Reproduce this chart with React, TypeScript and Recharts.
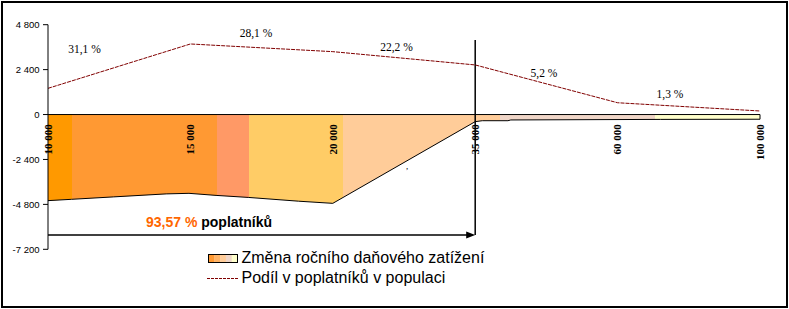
import React from 'react';
import {
  ComposedChart,
  Area,
  Line,
  XAxis,
  YAxis,
  ReferenceLine,
  ReferenceDot,
  Legend,
} from 'recharts';

// ---- data ----
const incomeLabels = ['10 000', '15 000', '20 000', '35 000', '60 000', '100 000'];
const incomeIndex = [0, 1, 2, 3, 4, 5];
const populationShare = [1400, 3770, 3360, 2650, 630, 190];

const changeIndex = [0, 0.165, 0.46, 0.83, 0.99, 1.18, 1.41, 1.76, 2, 3, 3.05, 3.23, 3.25, 4.3, 5];
const taxChange = [-4600, -4530, -4400, -4240, -4210, -4320, -4430, -4630, -4745, -380, -330, -330, -290, -260, -250];

const yTicks = [4800, 2400, 0, -2400, -4800, -7200];

const shareLabels = ['31,1 %', '28,1 %', '22,2 %', '5,2 %', '1,3 %'];
const shareLabelIndex = [0.256, 1.461, 2.447, 3.483, 4.368];
const shareLabelValue = [3272, 4143, 3395, 2006, 884];

const payersPct = '93,57 %';
const payersText = ' poplatníků';
const cutoffIndex = 3;
const arrowValue = -6436;
const cutoffTop = 3983;

const legendArea = 'Změna ročního daňového zatížení';
const legendLine = 'Podíl v poplatníků v populaci';

// ---- derived tables ----
const lineData = incomeIndex.map((x, i) => ({ x, v: populationShare[i] }));
const areaData = changeIndex.map((x, i) => ({ x, v: taxChange[i] }));

const fmt = (v: number) =>
  (v < 0 ? '-' : '') + Math.abs(v).toString().replace(/\B(?=(\d{3})+(?!\d))/g, ' ');

const bands = [
  { c: '#FF9900', from: 0, to: 0.034 },
  { c: '#FF9933', from: 0.034, to: 0.237 },
  { c: '#FF9966', from: 0.237, to: 0.282 },
  { c: '#FFCC66', from: 0.282, to: 0.415 },
  { c: '#FFCC99', from: 0.415, to: 0.635 },
  { c: '#F0D6C8', from: 0.635, to: 0.853 },
  { c: '#FFFFCC', from: 0.853, to: 1 },
];

const legendBands = ['#FF9933', '#FFB366', '#FFCC99', '#F0D6C8', '#FFFFCC'];

const LegendContent = () => (
  <svg width={320} height={42} style={{ display: 'block', overflow: 'visible' }}>
    {legendBands.map((c, i) => (
      <rect key={i} x={8.5 + (i * 29) / legendBands.length} y={8.5} width={29 / legendBands.length + 0.3} height={8} fill={c} />
    ))}
    <rect x={8.5} y={8.5} width={29} height={8} fill="none" stroke="#000" strokeWidth={1} />
    <text x={41.5} y={17.3} fontFamily="'Liberation Sans', Arial, sans-serif" fontSize={16} fill="#000">
      {legendArea}
    </text>
    <line x1={7} y1={32.5} x2={38} y2={32.5} stroke="#800000" strokeWidth={1} strokeDasharray="3 1" />
    <text x={41.5} y={36.7} fontFamily="'Liberation Sans', Arial, sans-serif" fontSize={16} fill="#000">
      {legendLine}
    </text>
  </svg>
);

export default function App() {
  return (
    <div style={{ position: 'absolute', left: 0, top: 0, width: 789, height: 309, background: '#fff' }}>
      <div
        style={{
          position: 'absolute',
          left: 1,
          top: 1,
          width: 787,
          height: 307,
          border: '2px solid #000',
          boxSizing: 'border-box',
        }}
      />
      <ComposedChart
        width={789}
        height={309}
        margin={{ top: 24.7, right: 29, bottom: 59.7, left: 0 }}
        style={{ position: 'absolute', left: 0, top: 0 }}
      >
        <defs>
          <linearGradient id="taxGrad" x1="0" y1="0" x2="1" y2="0">
            {bands.map((b, i) => (
              <React.Fragment key={i}>
                <stop offset={b.from} stopColor={b.c} />
                <stop offset={b.to} stopColor={b.c} />
              </React.Fragment>
            ))}
          </linearGradient>
        </defs>
        <XAxis type="number" dataKey="x" domain={[0, 5]} hide allowDataOverflow />
        <YAxis
          type="number"
          domain={[-7200, 4800]}
          ticks={yTicks}
          interval={0}
          width={48}
          tickFormatter={fmt}
          tickSize={5}
          tickMargin={3.5}
          axisLine={{ stroke: '#000' }}
          tickLine={{ stroke: '#000' }}
          tick={{ fill: '#000', fontSize: 9.5, fontFamily: "'Liberation Sans', Arial, sans-serif" }}
          allowDataOverflow
        />
        <Area
          data={areaData}
          dataKey="v"
          type="linear"
          baseValue={0}
          fill="url(#taxGrad)"
          fillOpacity={1}
          stroke="#000"
          strokeWidth={1}
          isAnimationActive={false}
        />
        <ReferenceLine y={0} stroke="#000" strokeWidth={1} />
        <ReferenceLine
          segment={[
            { x: 5, y: 0 },
            { x: 5, y: taxChange[taxChange.length - 1] },
          ]}
          stroke="#000"
        />
        <ReferenceLine
          segment={[
            { x: cutoffIndex, y: cutoffTop },
            { x: cutoffIndex, y: arrowValue },
          ]}
          stroke="#000"
          strokeWidth={1.5}
        />
        <ReferenceLine
          segment={[
            { x: 0, y: arrowValue },
            { x: cutoffIndex, y: arrowValue },
          ]}
          shape={(p: any) => (
            <g>
              <line x1={p.x1} y1={p.y1} x2={p.x2 - 6} y2={p.y2} stroke="#000" strokeWidth={1.5} />
              <polygon
                points={`${p.x2 - 9},${p.y2 - 3.5} ${p.x2},${p.y2} ${p.x2 - 9},${p.y2 + 3.5}`}
                fill="#000"
              />
            </g>
          )}
        />
        <Line
          data={lineData}
          dataKey="v"
          type="linear"
          stroke="#800000"
          strokeWidth={1}
          strokeDasharray="4 1"
          dot={false}
          activeDot={false}
          isAnimationActive={false}
        />
        {incomeIndex.map((x, i) => (
          <ReferenceDot
            key={'xl' + i}
            x={x}
            y={0}
            r={0}
            ifOverflow="visible"
            shape={(p: any) => (
              <text
                x={p.cx}
                y={p.cy + 9.7}
                transform={`rotate(-90, ${p.cx}, ${p.cy + 9.7})`}
                textAnchor="end"
                dy="0.35em"
                fontFamily="'Liberation Serif', 'Times New Roman', serif"
                fontWeight="bold"
                fontSize={11}
                fill="#000"
              >
                {incomeLabels[i]}
              </text>
            )}
          />
        ))}
        {shareLabels.map((t, i) => (
          <ReferenceDot
            key={'sl' + i}
            x={shareLabelIndex[i]}
            y={shareLabelValue[i]}
            r={0}
            ifOverflow="visible"
            shape={(p: any) => (
              <text
                x={p.cx}
                y={p.cy}
                textAnchor="middle"
                fontFamily="'Liberation Serif', 'Times New Roman', serif"
                fontSize={11.5}
                fill="#000"
              >
                {t}
              </text>
            )}
          />
        ))}
        <ReferenceDot
          x={2.514}
          y={-2910}
          r={0}
          ifOverflow="visible"
          shape={(p: any) => (
            <text x={p.cx} y={p.cy} fontFamily="'Liberation Serif', serif" fontSize={9} fill="#000">
              ,
            </text>
          )}
        />
        <ReferenceDot
          x={0.688}
          y={-5992}
          r={0}
          ifOverflow="visible"
          shape={(p: any) => (
            <text
              x={p.cx}
              y={p.cy}
              fontFamily="'Liberation Sans', Arial, sans-serif"
              fontWeight="bold"
              fontSize={14}
            >
              <tspan fill="#FF6600">{payersPct}</tspan>
              <tspan fill="#000">{payersText}</tspan>
            </text>
          )}
        />
        <Legend
          layout="vertical"
          align="center"
          verticalAlign="middle"
          wrapperStyle={{ left: 200, top: 246, width: 320, height: 42 }}
          content={() => <LegendContent />}
        />
      </ComposedChart>
    </div>
  );
}
